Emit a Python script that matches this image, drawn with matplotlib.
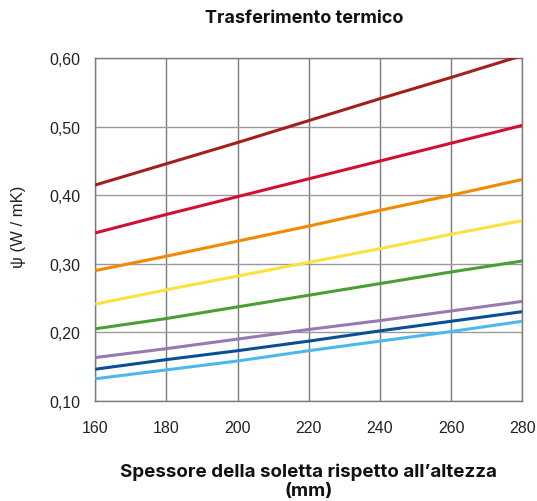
import matplotlib
matplotlib.use("Agg")
import matplotlib.pyplot as plt

plt.rcParams["font.family"] = ["Liberation Sans", "DejaVu Sans"]

# slab thickness (mm) and psi values
spessore = [160, 180, 200, 220, 240, 260, 280]
psi_rosso_scuro = [0.415, 0.446, 0.477, 0.509, 0.541, 0.572, 0.604]
psi_rosso = [0.345, 0.372, 0.398, 0.424, 0.450, 0.476, 0.502]
psi_arancio = [0.290, 0.311, 0.333, 0.355, 0.378, 0.400, 0.423]
psi_giallo = [0.241, 0.262, 0.282, 0.302, 0.322, 0.343, 0.363]
psi_verde = [0.205, 0.220, 0.237, 0.254, 0.271, 0.288, 0.304]
psi_viola = [0.163, 0.176, 0.190, 0.204, 0.217, 0.231, 0.245]
psi_blu = [0.146, 0.160, 0.173, 0.187, 0.202, 0.216, 0.230]
psi_azzurro = [0.132, 0.145, 0.158, 0.173, 0.187, 0.201, 0.216]

serie = [
    (psi_rosso_scuro, "#a3201a"),
    (psi_rosso, "#d20f32"),
    (psi_arancio, "#f08a00"),
    (psi_giallo, "#fde13c"),
    (psi_verde, "#4a9e34"),
    (psi_viola, "#977bb0"),
    (psi_blu, "#0a4f95"),
    (psi_azzurro, "#4cb9ea"),
]

y_ticks = [0.10, 0.20, 0.30, 0.40, 0.50, 0.60]
x_ticks = [160, 180, 200, 220, 240, 260, 280]

fig = plt.figure(figsize=(5.37, 5.02), dpi=100)
ax = fig.add_axes([0.1775, 0.1998, 0.7951, 0.6821])

for vals, col in serie:
    ax.plot(spessore, vals, color=col, lw=2.2, solid_capstyle="butt", zorder=3)

ax.set_xlim(160, 280)
ax.set_ylim(0.10, 0.60)
ax.set_xticks(x_ticks)
ax.set_yticks(y_ticks)
ax.set_yticklabels([f"{v:.2f}".replace(".", ",") for v in y_ticks])
ax.tick_params(length=0, labelsize=11.5, colors="#222")
ax.tick_params(axis="y", pad=11)
ax.tick_params(axis="x", pad=14)

for x in x_ticks:
    ax.axvline(x, color="#7a7a7a", lw=1.0, zorder=1)
for y in y_ticks:
    ax.axhline(y, color="#9a9a9a", lw=1.0, zorder=1)
for s in ax.spines.values():
    s.set_color("#7a7a7a")
    s.set_linewidth(1.0)

ax.set_ylabel("ψ (W / mK)", fontsize=12, color="#222")
ax.yaxis.set_label_coords(-0.163, 0.51)

bold_font = ["Inter", "DejaVu Sans"]
fig.text(0.567, 0.964, "Trasferimento termico", ha="center", va="center",
         fontsize=13, weight="bold", color="#111", family=bold_font)
fig.text(0.574, 0.041, "Spessore della soletta rispetto all\u2019altezza\n(mm)",
         ha="center", va="center", fontsize=13.5, weight="bold", color="#111",
         linespacing=1.15, family=bold_font)

fig.savefig("out.png", dpi=100)
